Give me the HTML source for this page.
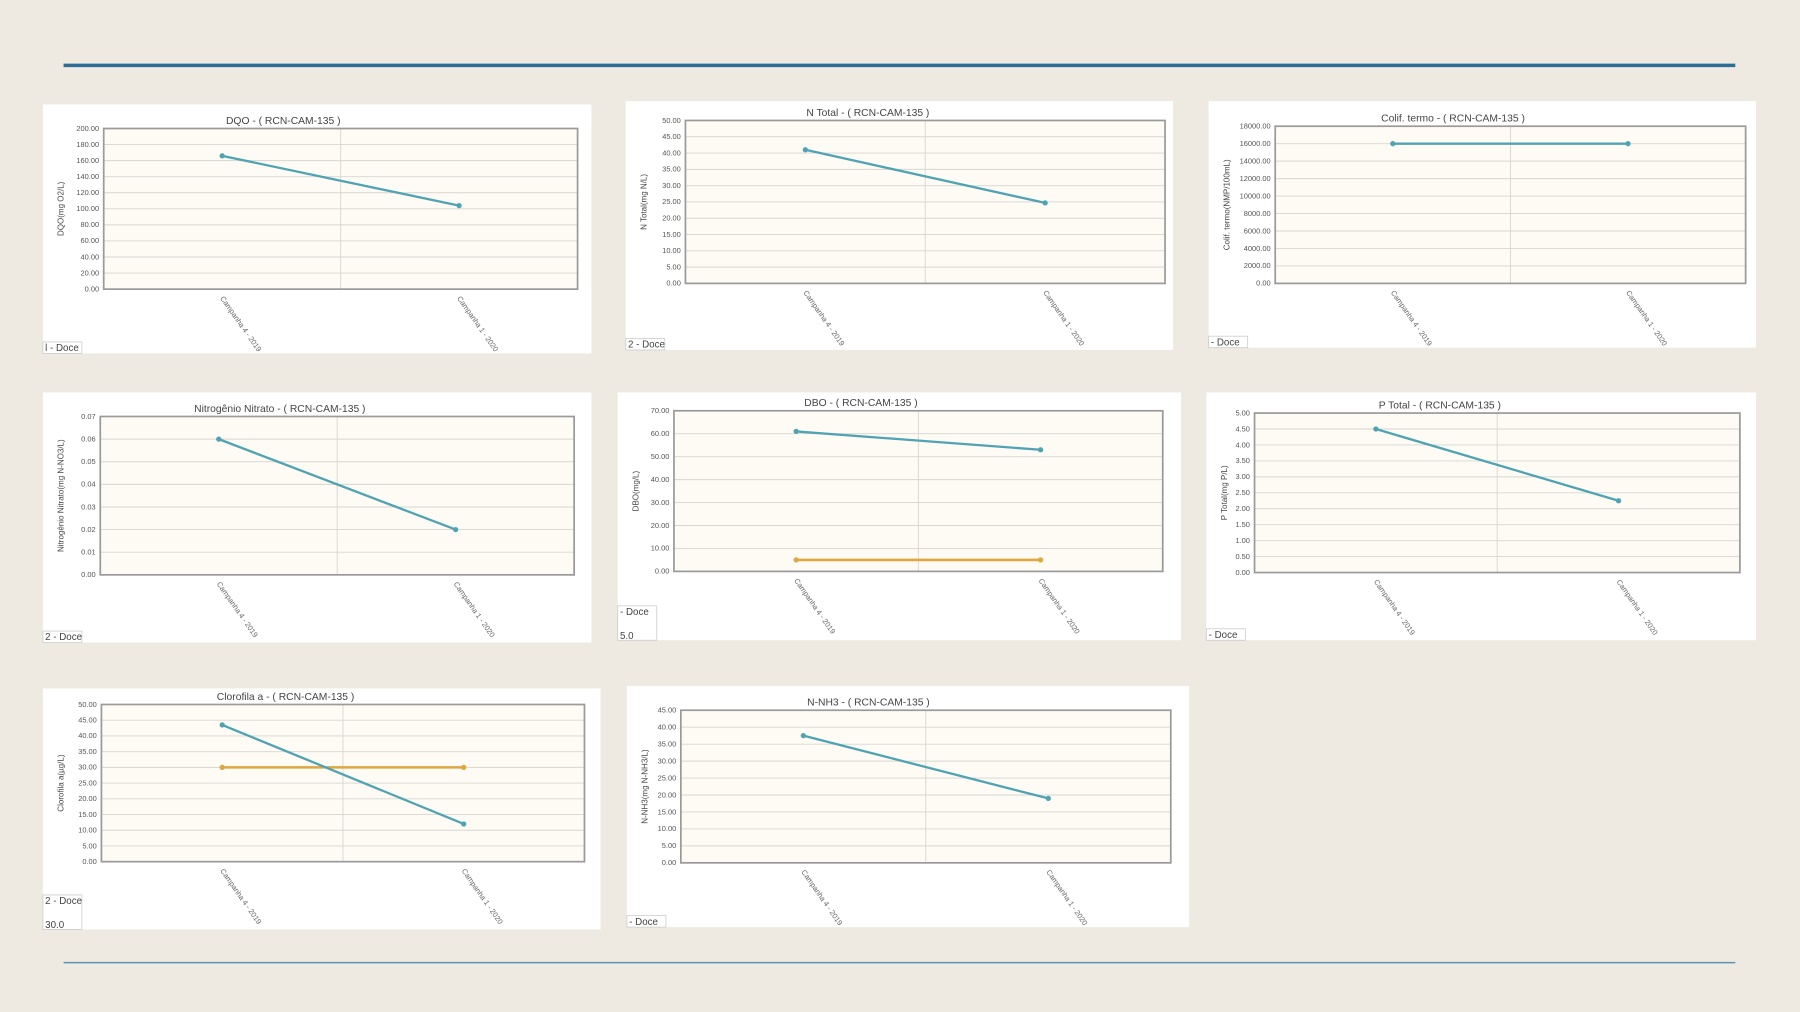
<!DOCTYPE html>
<html><head><meta charset="utf-8"><style>
html,body{margin:0;padding:0;background:#eeeae1;}
svg{display:block;}
text{font-family:"Liberation Sans",sans-serif;}
</style></head><body>
<svg id="s" width="1800" height="1012" viewBox="0 0 1568 882" xmlns="http://www.w3.org/2000/svg">
<rect x="0" y="0" width="1568" height="882" fill="#eeeae1"/>
<line x1="55" y1="57" x2="1512" y2="57" stroke="#2c6d95" stroke-width="3"/>
<line x1="55" y1="839" x2="1512" y2="839" stroke="#5b93b6" stroke-width="1.3"/>
</svg>
<script>
var P=[
{b:[37,91,478,217],p:[90,112,503,252],t:"DQO - ( RCN-CAM-135 )",yl:"DQO(mg O2/L)",max:200,st:20,d:2,v:[166,104],leg:"l - Doce"},
{b:[545,88,477,217],p:[597,105,1015,247],t:"N Total - ( RCN-CAM-135 )",yl:"N Total(mg N/L)",max:50,st:5,d:2,v:[41,24.7],leg:"2 - Doce"},
{b:[1053,88,477,215],p:[1111,110,1521,247],t:"Colif. termo - ( RCN-CAM-135 )",yl:"Colif. termo(NMP/100mL)",max:18000,st:2000,d:2,v:[16000,16000],leg:"- Doce"},
{b:[37,342,478,218],p:[87,363,500,501],t:"Nitrogênio Nitrato - ( RCN-CAM-135 )",yl:"Nitrogênio Nitrato(mg N-NO3/L)",max:0.07,st:0.01,d:2,v:[0.06,0.02],leg:"2 - Doce"},
{b:[538,342,491,216],p:[587,358,1013,498],t:"DBO - ( RCN-CAM-135 )",yl:"DBO(mg/L)",max:70,st:10,d:2,v:[61,53],o:5,leg:"- Doce",leg2:"5.0"},
{b:[1051,342,479,216],p:[1093,360,1516,499],t:"P Total - ( RCN-CAM-135 )",yl:"P Total(mg P/L)",max:5,st:0.5,d:2,v:[4.5,2.25],leg:"- Doce"},
{b:[37,600,486,210],p:[88,614,509,751],t:"Clorofila a - ( RCN-CAM-135 )",yl:"Clorofila a(µg/L)",max:50,st:5,d:2,v:[43.5,12],o:30,leg:"2 - Doce",leg2:"30.0"},
{b:[546,598,490,210],p:[593,619,1020,752],t:"N-NH3 - ( RCN-CAM-135 )",yl:"N-NH3(mg N-NH3/L)",max:45,st:5,d:2,v:[37.5,19],leg:"- Doce"}
];
var h='';
P.forEach(function(c){
 var b=c.b,p=c.p,x0=p[0],y0=p[1],x1=p[2],y1=p[3],w=x1-x0,hh=y1-y0;
 h+='<rect x="'+b[0]+'" y="'+b[1]+'" width="'+b[2]+'" height="'+b[3]+'" fill="#fff"/>';
 h+='<rect x="'+x0+'" y="'+y0+'" width="'+w+'" height="'+hh+'" fill="#fdfbf4"/>';
 var n=Math.round(c.max/c.st);
 for(var i=0;i<=n;i++){var y=y1-hh*i/n;
  h+='<line x1="'+x0+'" x2="'+x1+'" y1="'+y+'" y2="'+y+'" stroke="#d8d6d0" stroke-width="0.8"/>';
  h+='<text x="'+(x0-4)+'" y="'+(y+2)+'" font-size="6.5" fill="#555" text-anchor="end">'+(c.st*i).toFixed(2)+'</text>';}
 var xm=(x0+x1)/2;
 h+='<line x1="'+xm+'" x2="'+xm+'" y1="'+y0+'" y2="'+y1+'" stroke="#d8d6d0" stroke-width="0.8"/>';
 h+='<rect x="'+x0+'" y="'+y0+'" width="'+w+'" height="'+hh+'" fill="none" stroke="#9a9a9a" stroke-width="1.5"/>';
 h+='<text x="'+(xm-50)+'" y="'+(y0-4)+'" font-size="9" fill="#444" text-anchor="middle">'+c.t+'</text>';
 h+='<text transform="translate('+(b[0]+18)+','+(y0+hh/2)+') rotate(-90)" font-size="7" fill="#444" text-anchor="middle">'+c.yl+'</text>';
 var xa=x0+w/4,xb=x0+w*3/4;
 function Y(v){return y1-hh*v/c.max;}
 if(c.o!==undefined){h+='<line x1="'+xa+'" y1="'+Y(c.o)+'" x2="'+xb+'" y2="'+Y(c.o)+'" stroke="#e0a640" stroke-width="2.2"/><circle cx="'+xa+'" cy="'+Y(c.o)+'" r="2.3" fill="#e0a640"/><circle cx="'+xb+'" cy="'+Y(c.o)+'" r="2.3" fill="#e0a640"/>';}
 h+='<line x1="'+xa+'" y1="'+Y(c.v[0])+'" x2="'+xb+'" y2="'+Y(c.v[1])+'" stroke="#4fa3b3" stroke-width="2"/><circle cx="'+xa+'" cy="'+Y(c.v[0])+'" r="2.3" fill="#4fa3b3"/><circle cx="'+xb+'" cy="'+Y(c.v[1])+'" r="2.3" fill="#4fa3b3"/>';
 ["Campanha 4 - 2019","Campanha 1 - 2020"].forEach(function(s,k){var xx=k?xb:xa;
  h+='<text transform="translate('+(xx-2)+','+(y1+8)+') rotate(55)" font-size="6.5" fill="#666">'+s+'</text>';});
 var lh=c.leg2?30:10, by=b[1]+b[3];
 h+='<rect x="'+b[0]+'" y="'+(by-lh)+'" width="34" height="'+lh+'" fill="#fff" stroke="#ccc" stroke-width="0.7"/>';
 h+='<text x="'+(b[0]+2)+'" y="'+(by-lh+8)+'" font-size="8.5" fill="#444">'+c.leg+'</text>';
 if(c.leg2)h+='<text x="'+(b[0]+2)+'" y="'+(by-1)+'" font-size="8.5" fill="#444">'+c.leg2+'</text>';
});
document.getElementById('s').insertAdjacentHTML('beforeend',h);
</script>
</body></html>
